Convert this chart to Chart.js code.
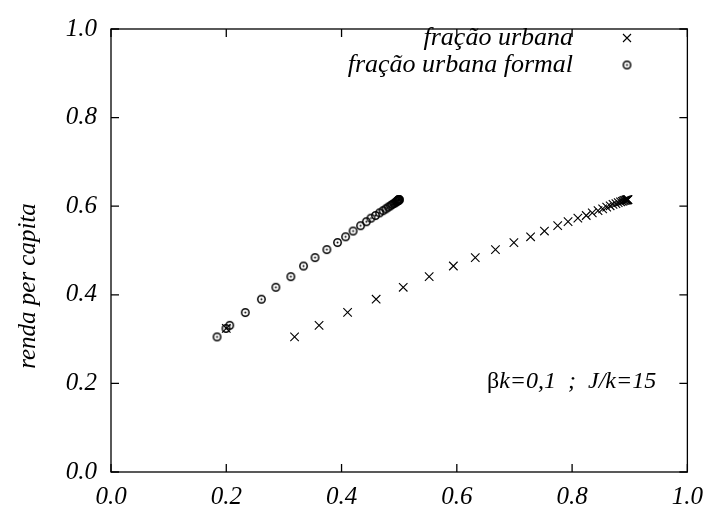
<!DOCTYPE html>
<html><head><meta charset="utf-8">
<script src="https://cdn.jsdelivr.net/npm/chart.js@4/dist/chart.umd.min.js"></script>
<style>html,body{margin:0;padding:0;background:#fff}#c{display:block}</style>
</head><body>
<canvas id="c" width="713" height="510"></canvas>
<script>
const xTicks = [0.0, 0.2, 0.4, 0.6, 0.8, 1.0];
const yTicks = [0.0, 0.2, 0.4, 0.6, 0.8, 1.0];
const seriesLabels = ['fração urbana', 'fração urbana formal'];
const yTitle = 'renda per capita';
const noteGreek = 'β';
const noteText = 'k=0,1  ;  J/k=15';

const urbanX = [0.200, 0.3185, 0.361, 0.4105, 0.460, 0.507, 0.552, 0.594, 0.632, 0.667, 0.699, 0.728, 0.752, 0.775, 0.793, 0.810, 0.8245,
  0.835, 0.845, 0.853, 0.860, 0.866, 0.871, 0.876, 0.880, 0.884, 0.887, 0.889, 0.891, 0.893, 0.894, 0.895, 0.896, 0.8965, 0.897];
const urbanY = [0.324, 0.305, 0.331, 0.3605, 0.390, 0.417, 0.441, 0.465, 0.484, 0.502, 0.518, 0.531, 0.544, 0.556, 0.565, 0.573, 0.579,
  0.585, 0.590, 0.594, 0.598, 0.601, 0.604, 0.606, 0.608, 0.610, 0.611, 0.612, 0.613, 0.6135, 0.614, 0.6143, 0.6145, 0.6147, 0.6148];

const formalX = [0.184, 0.1995, 0.206, 0.233, 0.261, 0.286, 0.312, 0.334, 0.354, 0.3745, 0.393, 0.407, 0.420, 0.433, 0.443, 0.451, 0.459,
  0.466, 0.472, 0.477, 0.481, 0.485, 0.488, 0.491, 0.493, 0.495, 0.496, 0.497, 0.498, 0.4985, 0.499, 0.4993, 0.4995, 0.4997, 0.4998];
const formalY = [0.305, 0.324, 0.331, 0.360, 0.390, 0.417, 0.441, 0.465, 0.484, 0.502, 0.518, 0.531, 0.544, 0.556, 0.565, 0.573, 0.579,
  0.585, 0.590, 0.594, 0.598, 0.601, 0.604, 0.606, 0.608, 0.610, 0.611, 0.612, 0.613, 0.6135, 0.614, 0.6143, 0.6145, 0.6147, 0.6148];

const FONT = '"Liberation Serif", "Times New Roman", serif';
const FS = 25;
const FS_LEG = 26;
const FS_NOTE = 24;

function makeCircleDot() {
  const c = document.createElement('canvas');
  c.width = 11; c.height = 11;
  const g = c.getContext('2d');
  g.strokeStyle = '#000'; g.lineWidth = 1.5;
  g.beginPath(); g.arc(5.5, 5.5, 3.7, 0, Math.PI * 2); g.stroke();
  g.fillStyle = '#000';
  g.beginPath(); g.arc(5.5, 5.5, 1.0, 0, Math.PI * 2); g.fill();
  return c;
}
const circleDot = makeCircleDot();

function pts(xs, ys) { return xs.map((x, i) => ({x: x, y: ys[i]})); }

const framePlugin = {
  id: 'frame',
  afterDraw(chart) {
    const ctx = chart.ctx;
    const a = chart.chartArea;
    const xs = chart.scales.x, ys = chart.scales.y;
    ctx.save();
    ctx.strokeStyle = '#000';
    ctx.lineWidth = 1.3;
    ctx.strokeRect(a.left, a.top, a.right - a.left, a.bottom - a.top);
    const tl = 8;
    ctx.beginPath();
    xTicks.forEach(v => {
      const px = xs.getPixelForValue(v);
      ctx.moveTo(px, a.bottom); ctx.lineTo(px, a.bottom - tl);
      ctx.moveTo(px, a.top); ctx.lineTo(px, a.top + tl);
    });
    yTicks.forEach(v => {
      const py = ys.getPixelForValue(v);
      ctx.moveTo(a.left, py); ctx.lineTo(a.left + tl, py);
      ctx.moveTo(a.right, py); ctx.lineTo(a.right - tl, py);
    });
    ctx.stroke();

    // y title
    ctx.fillStyle = '#000';
    ctx.font = 'italic ' + FS + 'px ' + FONT;
    ctx.save();
    ctx.translate(28, 286);
    ctx.rotate(-Math.PI / 2);
    ctx.textAlign = 'center';
    ctx.textBaseline = 'middle';
    ctx.fillText(yTitle, 0, 0);
    ctx.restore();

    // legend
    ctx.font = 'italic ' + FS_LEG + 'px ' + FONT;
    ctx.textAlign = 'right';
    ctx.textBaseline = 'middle';
    const rows = [38, 65];
    chart.data.datasets.forEach((ds, i) => {
      ctx.fillStyle = '#000';
      ctx.fillText(ds.label, 573, rows[i]);
      const mx = 627, my = rows[i];
      if (ds.pointStyle === 'crossRot') {
        ctx.beginPath();
        ctx.lineWidth = 1.1;
        ctx.moveTo(mx - 4, my - 4); ctx.lineTo(mx + 4, my + 4);
        ctx.moveTo(mx + 4, my - 4); ctx.lineTo(mx - 4, my + 4);
        ctx.stroke();
      } else {
        ctx.drawImage(circleDot, mx - 5.5, my - 5.5);
      }
    });

    // annotation
    ctx.textAlign = 'left';
    ctx.font = FS_NOTE + 'px ' + FONT;
    const gx = 487, gy = 382;
    ctx.fillText(noteGreek, gx, gy);
    const gw = ctx.measureText(noteGreek).width;
    ctx.font = 'italic ' + FS_NOTE + 'px ' + FONT;
    ctx.fillText(noteText, gx + gw, gy);
    ctx.restore();
  }
};

new Chart(document.getElementById('c'), {
  type: 'scatter',
  data: {
    datasets: [
      { label: seriesLabels[0], data: pts(urbanX, urbanY), pointStyle: 'crossRot', pointRadius: 6,
        borderColor: '#000', backgroundColor: '#000', borderWidth: 1.1, pointHoverRadius: 6 },
      { label: seriesLabels[1], data: pts(formalX, formalY), pointStyle: circleDot, pointRadius: 5,
        borderColor: '#000', backgroundColor: '#000', borderWidth: 1 }
    ]
  },
  options: {
    responsive: false,
    devicePixelRatio: 1,
    animation: false,
    layout: { padding: { left: 0, right: 19, top: 18, bottom: 0 } },
    plugins: { legend: { display: false }, tooltip: { enabled: false } },
    scales: {
      x: {
        type: 'linear', min: 0, max: 1,
        afterBuildTicks(s) { s.ticks = xTicks.map(v => ({value: v})); },
        afterFit(s) { s.height = 38; },
        grid: { display: false, drawTicks: false }, border: { display: false },
        ticks: { padding: 10, color: '#000', maxRotation: 0, autoSkip: false,
          font: { family: FONT, size: FS, style: 'italic' }, callback: v => v.toFixed(1) }
      },
      y: {
        type: 'linear', min: 0, max: 1,
        afterBuildTicks(s) { s.ticks = yTicks.map(v => ({value: v})); },
        afterFit(s) { s.width = 111; },
        grid: { display: false, drawTicks: false }, border: { display: false },
        ticks: { padding: 14, color: '#000', autoSkip: false,
          font: { family: FONT, size: FS, style: 'italic' }, callback: v => v.toFixed(1) }
      }
    }
  },
  plugins: [framePlugin]
});
</script>
</body></html>
